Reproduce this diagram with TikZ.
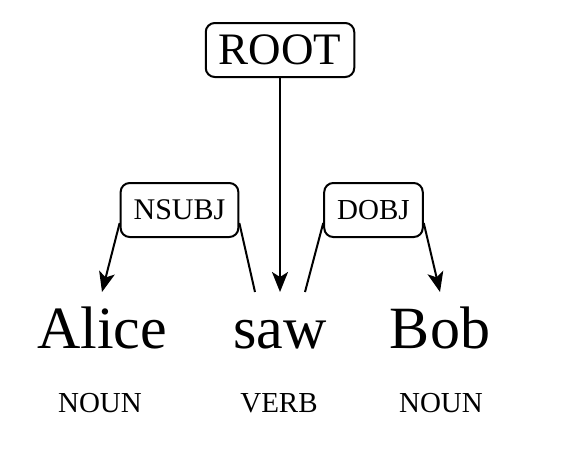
\documentclass[tikz,border=0pt]{standalone}
\usepackage{fontspec}
\setmainfont{Liberation Serif}
\usepackage{tikz}
\usetikzlibrary{arrows.meta}

\tikzset{
	deprel/.style={draw, line width=2pt, rounded corners=9pt, inner xsep=13pt, minimum height=54pt},
	word/.style={anchor=base, inner sep=0pt, text height=44pt, outer ysep=12pt, font=\fontsize{60}{60}\selectfont},
	postag/.style={anchor=base, font=\fontsize{29}{29}\selectfont},
}

\begin{document}
\begin{tikzpicture}[x=1pt, y=-1pt, line width=2pt, >={Stealth[length=20pt, width=16pt, inset=5pt]}]
\useasboundingbox (0,0) rectangle (562,461);
% relations
\node[deprel, font=\fontsize{45}{45}\selectfont] (root) at (280,50) {ROOT};
\node[deprel, font=\fontsize{30}{30}\selectfont] (nsubj) at (179.5,210) {NSUBJ};
\node[deprel, font=\fontsize{29}{29}\selectfont] (dobj) at (373.5,210) {DOBJ};
% words
\node[word] (alice) at (102,348) {Alice};
\node[word] (saw) at (280,348) {saw};
\node[word] (bob) at (440,348) {Bob};
\node[postag] (t-alice) at (100,412) {NOUN};
\node[postag] (t-saw) at (279,412) {VERB};
\node[postag] (t-bob) at (441,412) {NOUN};
\coordinate (saw-l) at ([xshift=-25pt]saw.north);
\coordinate (saw-r) at ([xshift=25pt]saw.north);
\path[->]
([yshift=-13pt]nsubj.west) edge (alice.north)
([yshift=-13pt]nsubj.east) edge[-] (saw-l)
(root) edge (saw.north)
([yshift=-13pt]dobj.west) edge[-] (saw-r)
([yshift=-13pt]dobj.east) edge (bob.north)
;
\end{tikzpicture}
\end{document}
